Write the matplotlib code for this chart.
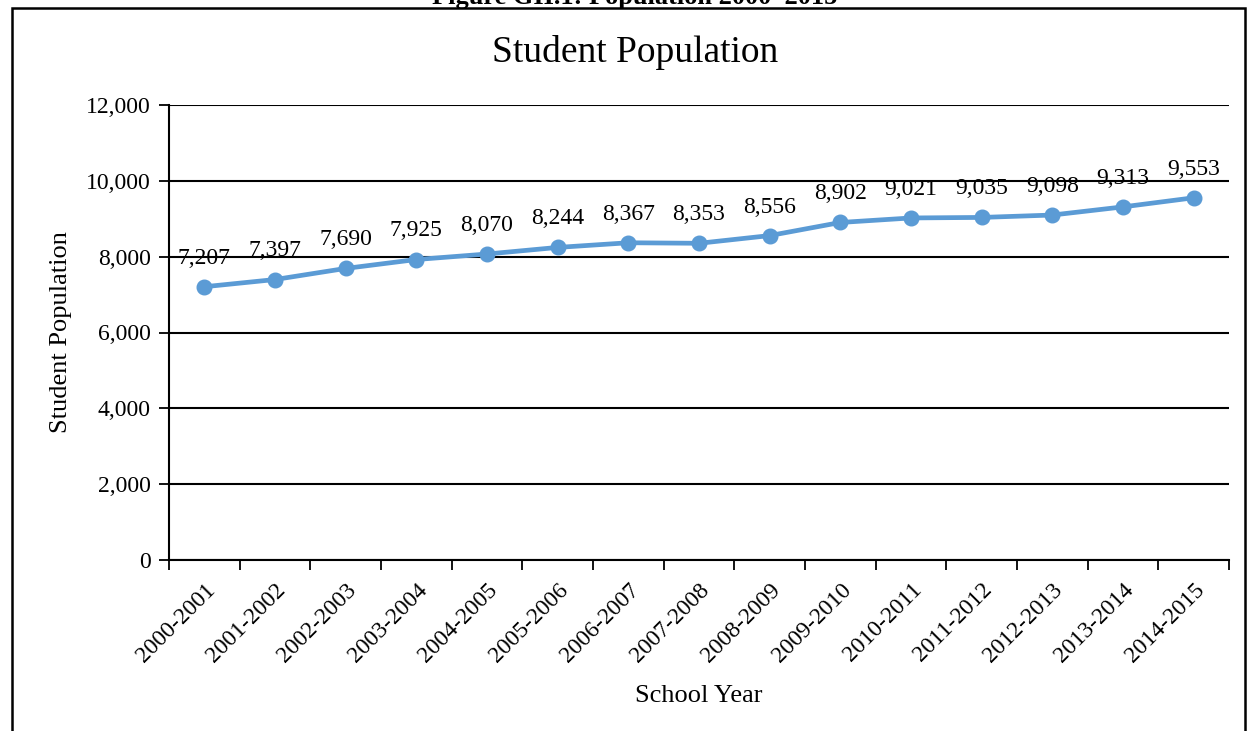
import matplotlib.pyplot as plt
from matplotlib.patches import Rectangle

years = ["2000-2001", "2001-2002", "2002-2003", "2003-2004", "2004-2005",
         "2005-2006", "2006-2007", "2007-2008", "2008-2009", "2009-2010",
         "2010-2011", "2011-2012", "2012-2013", "2013-2014", "2014-2015"]
students = [7207, 7397, 7690, 7925, 8070, 8244, 8367, 8353, 8556, 8902,
            9021, 9035, 9098, 9313, 9553]
yticks = [0, 2000, 4000, 6000, 8000, 10000, 12000]

plt.rcParams['font.family'] = ['Liberation Serif', 'DejaVu Serif']

fig = plt.figure(figsize=(12.57, 7.31), dpi=100)
ax = fig.add_axes([169 / 1257, 1 - 560 / 731, (1229 - 169) / 1257, (560 - 105) / 731])

x = list(range(len(years)))
ax.plot(x, students, color='#5B9BD5', lw=3.4, marker='o', ms=10.5,
        solid_capstyle='round', zorder=3)
for xi, v in zip(x, students):
    ax.annotate(f"{v:,}", (xi, v), xytext=(0, 13), textcoords='offset points',
                ha='center', va='bottom', fontsize=17, zorder=4)

ax.set_xlim(-0.5, len(years) - 0.5)
ax.set_ylim(0, 12000)
ax.set_yticks(yticks)
ax.set_yticklabels([f"{t:,}" for t in yticks], fontsize=17)
ax.yaxis.grid(True, color='black', lw=1.5)
ax.set_axisbelow(True)

ax.set_xticks([i - 0.5 for i in range(len(years) + 1)])
ax.set_xticklabels([])
ax.set_xticks(x, minor=True)
ax.set_xticklabels(years, minor=True, rotation=45, ha='right',
                   rotation_mode='anchor', fontsize=17)
ax.tick_params(axis='x', which='minor', length=0, pad=14)
ax.tick_params(axis='x', which='major', length=7, width=1.3)
ax.tick_params(axis='y', length=7, width=1.3, pad=6)

for s in ['top', 'right']:
    ax.spines[s].set_visible(False)
for s in ['left', 'bottom']:
    ax.spines[s].set_linewidth(1.5)

ax.set_xlabel("School Year", fontsize=19, labelpad=13)
ax.set_ylabel("Student Population", fontsize=19, labelpad=10)
fig.text(0.505, 1 - 52 / 731, "Student Population", ha='center', va='center',
         fontsize=27)

# outer frame and caption above it
fig.patches.append(Rectangle((12 / 1257, -0.05), (1245 - 12) / 1257, 1.05 - 8 / 731,
                             transform=fig.transFigure, fill=False,
                             edgecolor='black', lw=1.8))
fig.text(0.505, 1 - 4 / 731, "Figure GII.1: Population 2000\u20132015", ha='center',
         va='baseline', fontsize=19, fontweight='bold')

fig.savefig("out.png", dpi=100)
